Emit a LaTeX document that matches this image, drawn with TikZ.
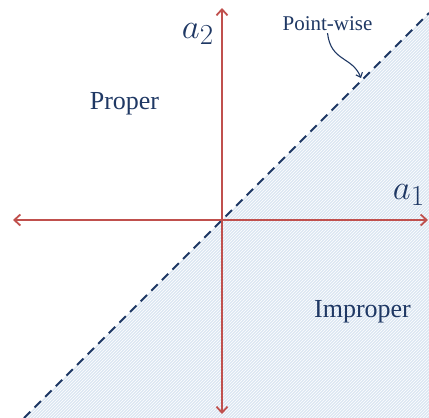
\documentclass[tikz,border=0pt]{standalone}
\usepackage{fontspec}
\setmainfont{Liberation Serif}
\usetikzlibrary{arrows.meta,patterns}
\definecolor{axisred}{RGB}{192,80,77}
\definecolor{navy}{RGB}{31,56,100}
\definecolor{shadeblue}{RGB}{220,230,242}
\newcommand{\axname}[1]{\scalebox{1.4}{$#1$}}

\begin{document}
\begin{tikzpicture}[x=1pt, y=-1pt, line width=1.8pt,
    axis/.style={axisred, {Straight Barb[length=6pt,width=11pt]}-{Straight Barb[length=6pt,width=11pt]}},
    boundary/.style={navy, line width=2pt, dash pattern=on 9pt off 6pt},
    region/.style={text=navy, font=\fontsize{26}{26}\selectfont, anchor=base},
    axlabel/.style={text=navy, font=\fontsize{24.88}{25}\selectfont, anchor=base west, inner sep=0pt}]
    \useasboundingbox (0,0) rectangle (429,418);
    % improper half-plane
    \fill[shadeblue] (24,418) -- (429,13) -- (429,418) -- cycle;
    \fill[pattern=north east lines, pattern color=white] (24,418) -- (429,13) -- (429,418) -- cycle;
    \coordinate (lowend) at (24,418);
    \coordinate (highend) at (429,13);
    \draw[boundary] (lowend) -- (highend);
    % axes
    \coordinate (xleft) at (13,220);
    \coordinate (xright) at (428,220);
    \coordinate (ytop) at (222,8);
    \coordinate (ybottom) at (222,414);
    \draw[axis] (xleft) -- (xright);
    \draw[axis] (ybottom) -- (ytop);
    \node[axlabel] (atwo) at (181,38) {\axname{a_2}};
    \node[axlabel] (aone) at (392,199) {\axname{a_1}};
    \node[region] (proper) at (124.5,109) {Proper};
    \node[region] (improper) at (362.5,317) {Improper};
    \node[region, font=\fontsize{21}{21}\selectfont, inner sep=2pt] (pw) at (327.5,30) {Point-wise};
    \coordinate (pwtip) at (361,78);
    \draw[navy, line width=1.1pt, -{Straight Barb[length=4pt,width=7pt]}] (pw.south) .. controls (331,62) and (352,56) .. (pwtip);
\end{tikzpicture}
\end{document}
